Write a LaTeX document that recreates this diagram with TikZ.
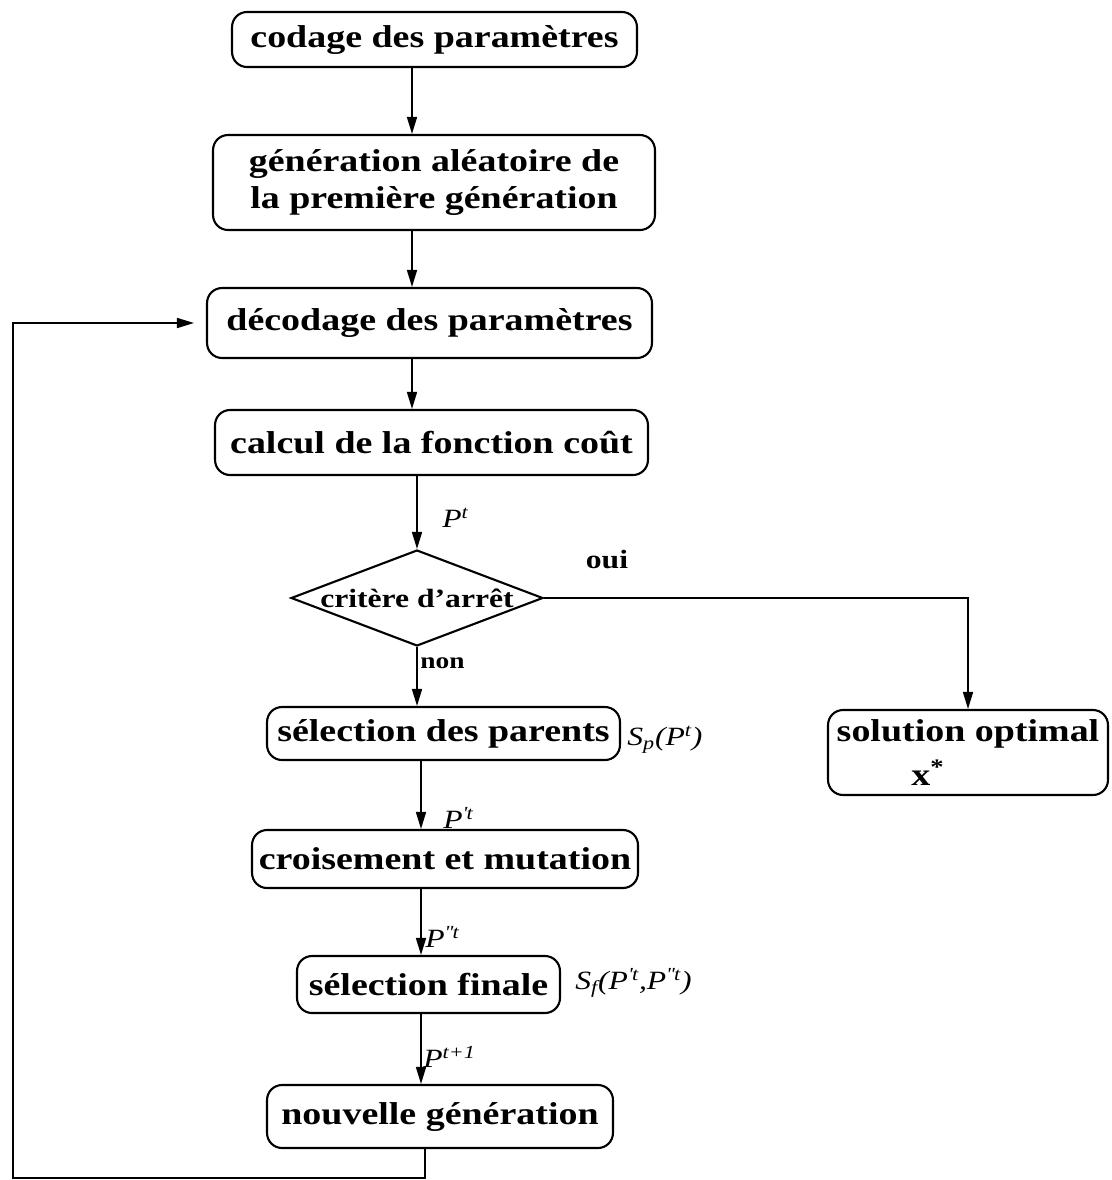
\documentclass[tikz,border=0pt]{standalone}
\usepackage{fontspec}
\setmainfont{Liberation Serif}[FakeStretch=1.2]
\usepackage{tikz}
\usetikzlibrary{positioning, arrows.meta, shapes.geometric, calc}
\tikzset{
  >={Triangle[length=3.4mm, width=2mm]},
  box/.style={draw, rounded corners=3mm, line width=1.2pt, inner sep=2pt, align=center, font=\fontsize{18}{20.5}\selectfont\bfseries},
  test/.style={draw, diamond, aspect=2.625, line width=1.2pt, inner sep=0pt, font=\fontsize{15}{17}\selectfont\bfseries},
  lab/.style={inner sep=0pt, font=\fontsize{15}{17}\selectfont\itshape},
  rep/.style={inner sep=0pt, font=\fontsize{15}{17}\selectfont\bfseries},
  flow/.style={line width=0.9pt},
}
\newcommand{\prm}{\textquotesingle}

\begin{document}
\begin{tikzpicture}[x=0.02cm, y=-0.02cm]
      \useasboundingbox (0,0) rectangle (1112,1180);
      \coordinate (colA) at (412,0);
      \coordinate (colB) at (421,0);
      \coordinate (colC) at (425,0);
      \coordinate (loop) at (13,1178);

      \node[box, minimum width=8.1cm, minimum height=1.1cm] (codage) at (434.5,39.5) {codage des paramètres};
      \node[box, minimum width=8.84cm, minimum height=1.9cm] (gen) at (434,182.5) {génération aléatoire de\\la première génération};
      \node[box, minimum width=8.9cm, minimum height=1.4cm] (decod) at (429.5,323) {décodage des paramètres};
      \node[box, minimum width=8.66cm, minimum height=1.3cm] (calcul) at (431.5,442.5) {calcul de la fonction coût};
      \node[test, minimum width=5.04cm, minimum height=1.92cm] (crit) at (417,598) {\makebox[3.6cm]{critère d'arrêt}};
      \node[box, minimum width=7.06cm, minimum height=1.06cm] (selp) at (443.5,733.5) {sélection des parents};
      \node[box, minimum width=7.72cm, minimum height=1.16cm] (crois) at (445,859) {croisement et mutation};
      \node[box, minimum width=5.26cm, minimum height=1.14cm] (selfin) at (428.5,984.5) {sélection finale};
      \node[box, minimum width=6.92cm, minimum height=1.26cm] (nouv) at (440,1116.5) {nouvelle génération};
      \node[box, minimum width=5.6cm, minimum height=1.7cm, font=\fontsize{18}{25}\selectfont\bfseries] (sol) at (968,752.5) {solution optimal\\x\textsuperscript{*}\hspace*{1.6cm}};

      \node[lab, anchor=west] (pt) at (442,518) {P\textsuperscript{t}};
      \node[rep] (oui) at (607,560) {oui};
      \node[rep, anchor=west, font=\fontsize{13}{15}\selectfont\bfseries] (non) at (420,663) {non};
      \node[lab, anchor=west] (sp) at (627,740) {S\textsubscript{p}(P\textsuperscript{t})};
      \node[lab, anchor=west] (pt1) at (443,818) {P\textsuperscript{\prm t}};
      \node[lab, anchor=west] (pt2) at (425,937) {P\textsuperscript{\prm\prm t}};
      \node[lab, anchor=west] (sf) at (575,983) {S\textsubscript{f}(P\textsuperscript{\prm t},P\textsuperscript{\prm\prm t})};
      \node[lab, anchor=west] (pt3) at (423,1057) {P\textsuperscript{t+1}};

      \draw[flow, ->] (codage.south -| colA) -- (gen.north -| colA);
      \draw[flow, ->] (gen.south -| colA) -- (decod.north -| colA);
      \draw[flow, ->] (decod.south -| colA) -- (calcul.north -| colA);
      \draw[flow, ->] (calcul.south -| crit.north) -- (crit.north);
      \draw[flow, ->] (crit.south) -- (selp.north -| crit.south);
      \draw[flow, ->] (crit.east) -| (sol.north);
      \draw[flow, ->] (selp.south -| colB) -- (crois.north -| colB);
      \draw[flow, ->] (crois.south -| colB) -- (selfin.north -| colB);
      \draw[flow, ->] (selfin.south -| colB) -- (nouv.north -| colB);
      \draw[flow, ->, shorten >=2.4mm] (nouv.south -| colC) |- (loop) |- (decod.west);
    \end{tikzpicture}
\end{document}
